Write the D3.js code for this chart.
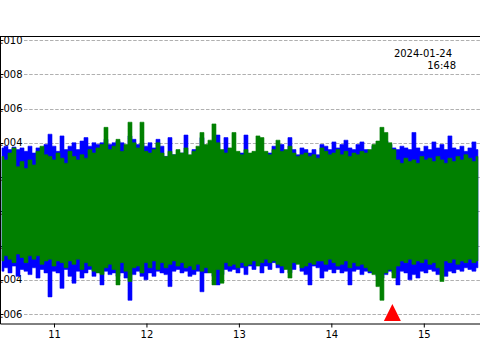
<!DOCTYPE html>
<html>
<head>
<meta charset="utf-8">
<script src="https://cdn.jsdelivr.net/npm/d3@7/dist/d3.min.js"></script>
<style>
  html, body { margin: 0; padding: 0; background: #fff; overflow: hidden; }
  svg { display: block; }
  text { font-family: "DejaVu Sans", sans-serif; }
</style>
</head>
<body>
<script>
// ---- data (amplitudes in units of 1e-3), one high/low pair per sample window ----
const sampleStart = 10.4376;   // centre time of first window
const sampleStep = 0.04326;    // time between windows

const greenHigh = [
  3.2,3.0,3.4,3.7,2.6,2.9,2.5,3.0,2.7,3.5,
  3.8,3.3,3.2,3.0,3.4,3.1,2.8,3.5,3.2,3.0,
  3.3,3.1,3.6,3.4,3.7,3.9,4.9,3.6,3.8,4.2,
  3.5,3.9,5.2,4.0,3.7,5.2,3.5,3.4,3.6,4.0,
  3.4,3.2,3.5,3.3,3.6,3.4,3.7,3.3,3.5,3.8,
  4.6,3.9,4.15,5.1,4.0,3.6,3.4,3.7,4.6,3.5,
  3.3,3.6,3.4,3.5,4.4,4.3,3.5,3.3,3.6,4.15,
  3.5,3.6,3.8,3.4,3.2,3.3,3.4,3.2,3.3,3.1,
  3.7,3.5,3.3,3.4,3.6,3.3,3.5,3.2,3.4,3.3,
  3.5,3.4,3.6,3.9,4.1,4.9,4.6,4.0,3.6,3.0,
  2.8,3.1,2.9,3.0,2.8,3.2,3.0,3.1,2.9,3.2,
  3.0,2.8,3.1,2.9,3.2,3.0,3.3,3.1,2.9,3.2
];
const greenLow = [
  -2.9,-2.6,-2.8,-3.0,-2.5,-2.7,-3.0,-2.6,-2.8,-2.6,
  -3.1,-2.9,-2.8,-3.2,-2.9,-3.0,-3.3,-2.9,-3.1,-2.8,
  -3.4,-3.0,-3.2,-3.5,-3.6,-3.7,-3.3,-3.1,-3.4,-4.3,
  -3.0,-3.5,-4.1,-3.3,-3.2,-3.6,-3.0,-3.3,-2.9,-3.4,
  -3.0,-3.3,-3.1,-2.9,-3.2,-3.0,-3.3,-3.2,-3.4,-3.1,
  -3.5,-3.3,-3.6,-4.3,-3.4,-4.2,-3.0,-3.2,-3.1,-3.3,
  -3.0,-3.2,-3.1,-2.9,-3.2,-3.0,-2.8,-3.0,-2.9,-3.1,
  -3.2,-3.4,-3.9,-3.0,-3.1,-3.3,-3.2,-3.0,-3.1,-2.9,
  -2.9,-3.1,-2.8,-3.0,-3.2,-3.1,-2.9,-3.3,-3.0,-3.2,
  -3.1,-3.3,-3.5,-3.7,-4.4,-5.2,-3.6,-3.4,-3.9,-3.2,
  -2.9,-3.0,-2.8,-3.1,-2.9,-3.0,-2.8,-3.1,-3.0,-3.3,
  -4.1,-2.9,-3.0,-2.8,-3.1,-2.9,-3.0,-2.8,-3.0,-2.9
];
const blueHigh = [
  3.7,3.8,3.6,3.75,3.6,3.7,3.5,3.8,3.4,3.7,
  3.6,3.9,4.5,3.8,3.5,4.4,3.6,3.8,4.0,3.6,
  4.1,4.3,3.8,4.0,3.9,4.0,4.2,3.9,4.0,4.1,
  4.0,3.8,4.4,4.2,3.9,4.0,3.8,4.0,3.7,4.2,
  3.8,3.2,4.3,3.3,3.1,3.4,4.45,3.2,3.6,3.3,
  4.3,3.4,3.5,3.6,4.45,3.3,4.3,3.3,3.4,3.2,
  3.4,4.45,3.3,3.4,3.5,3.3,3.2,3.4,3.8,3.5,
  3.9,3.4,4.3,3.6,3.3,3.7,3.6,3.4,3.6,3.3,
  3.9,3.8,3.6,4.05,3.7,3.9,4.15,3.7,3.6,3.9,
  4.05,3.6,3.5,3.8,3.9,4.0,4.1,3.9,3.7,3.6,
  3.8,3.7,3.6,4.6,3.7,3.5,3.8,3.6,4.05,3.7,
  3.9,3.6,4.4,3.7,3.6,3.8,3.5,3.7,4.05,3.6
];
const blueLow = [
  -3.5,-3.3,-3.6,-3.2,-3.8,-3.4,-3.5,-3.7,-3.3,-3.9,
  -3.4,-3.6,-5.0,-3.5,-3.6,-4.5,-3.4,-3.8,-4.2,-3.5,
  -3.9,-3.6,-3.4,-3.8,-3.5,-4.3,-3.5,-3.7,-3.6,-3.8,
  -3.6,-3.9,-5.2,-3.7,-3.5,-3.8,-4.0,-3.6,-3.8,-3.5,
  -3.6,-3.7,-4.4,-3.5,-3.4,-3.6,-3.5,-3.8,-3.7,-3.5,
  -4.7,-3.6,-3.5,-3.8,-4.3,-3.7,-3.4,-3.5,-3.4,-3.6,
  -3.3,-3.7,-3.2,-3.4,-3.1,-3.6,-3.2,-3.4,-3.0,-3.3,
  -3.6,-3.2,-3.6,-3.4,-3.0,-3.5,-3.7,-4.3,-3.2,-3.3,
  -3.9,-3.5,-3.4,-3.6,-3.4,-3.6,-3.5,-4.3,-3.5,-3.4,
  -3.7,-3.5,-3.6,-3.6,-3.8,-3.9,-3.7,-3.5,-3.6,-4.3,
  -3.5,-3.6,-4.0,-3.7,-3.9,-3.5,-3.6,-3.4,-3.5,-3.7,
  -3.6,-3.8,-3.5,-3.6,-3.4,-3.5,-3.3,-3.4,-3.5,-3.3
];

const yTicks = [0.010, 0.008, 0.006, 0.004, 0.002, 0.000, -0.002, -0.004, -0.006];
const yTickLabels = ["0.010", "0.008", "0.006", "0.004", "0.002", "0.000", "-0.002", "-0.004", "-0.006"];
const xTicks = [11, 12, 13, 14, 15];
const xTickLabels = ["11", "12", "13", "14", "15"];
const pickTimes = [14.66];
const stampLines = ["2024-01-24", "16:48"];

// ---- build envelope records ----
function envelope(hi, lo) {
  return hi.map((h, i) => ({ t: sampleStart + i * sampleStep, hi: h * 1e-3, lo: lo[i] * 1e-3 }));
}
const blueEnv = envelope(blueHigh, blueLow);
const greenEnv = envelope(greenHigh, greenLow);

// ---- layout ----
const W = 480, H = 360;
const plotTop = 36, plotBottom = 324, plotLeft = 0, plotRight = 480;

const svg = d3.select("body").append("svg").attr("width", W).attr("height", H);

const x = d3.scaleLinear().domain([10.416, 15.608]).range([0, 480]);
const y = d3.scaleLinear().domain([-0.006, 0.010]).range([314, 40]);

svg.append("defs").append("clipPath").attr("id", "plotclip")
  .append("rect").attr("x", plotLeft).attr("y", plotTop)
  .attr("width", plotRight - plotLeft).attr("height", plotBottom - plotTop);

// grid
svg.append("g").selectAll("line").data(yTicks).join("line")
  .attr("x1", 24).attr("x2", plotRight)
  .attr("y1", d => Math.round(y(d)) + 0.5).attr("y2", d => Math.round(y(d)) + 0.5)
  .attr("stroke", "#b0b0b0").attr("stroke-width", 1).attr("stroke-dasharray", "3.5,1.7");

// y labels (inside plot) and inward ticks
const yl = svg.append("g");
yl.selectAll("text").data(yTicks).join("text")
  .attr("x", 22.5).attr("y", d => y(d)).attr("dy", "0.35em")
  .attr("text-anchor", "end").attr("font-size", 10).attr("fill", "#000")
  .text((d, i) => yTickLabels[i]);
yl.selectAll("line").data(yTicks).join("line")
  .attr("x1", 0).attr("x2", 3.5)
  .attr("y1", d => Math.round(y(d)) + 0.5).attr("y2", d => Math.round(y(d)) + 0.5)
  .attr("stroke", "#000").attr("stroke-width", 1);

// data: each trace drawn as its min/max envelope per window
const area = d3.area().curve(d3.curveStep)
  .x(d => x(d.t)).y0(d => y(d.lo)).y1(d => y(d.hi));
const dg = svg.append("g").attr("clip-path", "url(#plotclip)");
dg.append("path").datum(blueEnv).attr("d", area)
  .attr("fill", "#0000ff").attr("stroke", "#0000ff").attr("stroke-width", 0.6);
dg.append("path").datum(greenEnv).attr("d", area)
  .attr("fill", "#008000").attr("stroke", "#008000").attr("stroke-width", 0.6);

// frame
svg.append("line").attr("x1", 0).attr("x2", W).attr("y1", plotTop + 0.5).attr("y2", plotTop + 0.5)
  .attr("stroke", "#000").attr("stroke-width", 1);
svg.append("line").attr("x1", 0.5).attr("x2", 0.5).attr("y1", plotTop).attr("y2", plotBottom)
  .attr("stroke", "#000").attr("stroke-width", 1);

// x axis
const xAxis = d3.axisBottom(x).tickValues(xTicks).tickSize(4).tickSizeOuter(0).tickPadding(3)
  .tickFormat((d, i) => xTickLabels[i]);
const xg = svg.append("g").attr("transform", `translate(0,${plotBottom - 0.5})`).call(xAxis);
xg.selectAll("text").attr("font-size", 10).attr("font-family", "DejaVu Sans").attr("fill", "#000");
xg.selectAll("line,path").attr("stroke", "#000");

// pick marker
svg.append("g").selectAll("path").data(pickTimes).join("path")
  .attr("d", d => {
    const cx = x(d), base = 321, top = 304, hw = 8.5;
    return `M${cx - hw},${base}L${cx + hw},${base}L${cx},${top}Z`;
  })
  .attr("fill", "#ff0000");

// time stamp
const stampX = [452, 456];
svg.append("g").selectAll("text").data(stampLines).join("text")
  .attr("x", (d, i) => stampX[i]).attr("y", (d, i) => 57 + i * 12)
  .attr("text-anchor", "end").attr("font-size", 10).attr("fill", "#000")
  .text(d => d);
</script>
</body>
</html>
